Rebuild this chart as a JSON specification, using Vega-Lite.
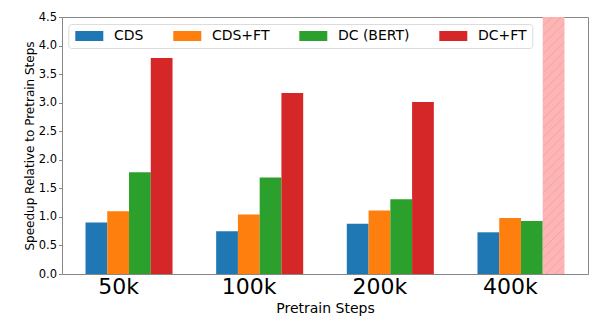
{
  "$schema": "https://vega.github.io/schema/vega-lite/v6.json",
  "width": 526,
  "height": 257,
  "autosize": {"type": "none"},
  "padding": {"left": 62, "top": 17, "right": 10, "bottom": 43},
  "config": {
    "font": "DejaVu Sans",
    "view": {"stroke": "#878787", "strokeWidth": 1},
    "axis": {"grid": false, "domain": false, "labelColor": "#000000", "titleColor": "#000000", "titleFontWeight": "normal", "labelFont": "DejaVu Sans", "titleFont": "DejaVu Sans"}
  },
  "data": {
    "values": [
      {"Step": "50k", "Method": "CDS", "Speedup": 0.90},
      {"Step": "50k", "Method": "CDS+FT", "Speedup": 1.10},
      {"Step": "50k", "Method": "DC (BERT)", "Speedup": 1.78},
      {"Step": "50k", "Method": "DC+FT", "Speedup": 3.78},
      {"Step": "100k", "Method": "CDS", "Speedup": 0.75},
      {"Step": "100k", "Method": "CDS+FT", "Speedup": 1.04},
      {"Step": "100k", "Method": "DC (BERT)", "Speedup": 1.69},
      {"Step": "100k", "Method": "DC+FT", "Speedup": 3.17},
      {"Step": "200k", "Method": "CDS", "Speedup": 0.88},
      {"Step": "200k", "Method": "CDS+FT", "Speedup": 1.11},
      {"Step": "200k", "Method": "DC (BERT)", "Speedup": 1.31},
      {"Step": "200k", "Method": "DC+FT", "Speedup": 3.01},
      {"Step": "400k", "Method": "CDS", "Speedup": 0.73},
      {"Step": "400k", "Method": "CDS+FT", "Speedup": 0.98},
      {"Step": "400k", "Method": "DC (BERT)", "Speedup": 0.93},
      {"Step": "400k", "Method": "DC+FT", "Speedup": 4.5}
    ]
  },
  "encoding": {
    "x": {
      "field": "Step", "type": "nominal",
      "sort": ["50k", "100k", "200k", "400k"],
      "scale": {"paddingInner": 0.334, "paddingOuter": 0.18},
      "axis": {"title": "Pretrain Steps", "labelAngle": 0, "labelFontSize": 22, "ticks": false, "labelPadding": 2, "labelOffset": -10.5, "titleFontSize": 14, "titlePadding": 4}
    },
    "xOffset": {
      "field": "Method", "type": "nominal",
      "scale": {"domain": ["CDS", "CDS+FT", "DC (BERT)", "DC+FT"], "paddingInner": 0, "paddingOuter": 0}
    },
    "y": {
      "field": "Speedup", "type": "quantitative",
      "scale": {"domain": [0, 4.5], "nice": false},
      "axis": {"title": "Speedup Relative to Pretrain Steps", "values": [0, 0.5, 1, 1.5, 2, 2.5, 3, 3.5, 4, 4.5], "format": ".1f", "labelFontSize": 11.5, "tickSize": 3.5, "tickColor": "#878787", "labelPadding": 2, "titleFontSize": 12, "titlePadding": 2}
    }
  },
  "layer": [
    {
      "transform": [{"filter": "!(datum.Step === '400k' && datum.Method === 'DC+FT')"}],
      "mark": {"type": "bar"},
      "encoding": {
        "color": {
          "field": "Method", "type": "nominal",
          "scale": {"domain": ["CDS", "CDS+FT", "DC (BERT)", "DC+FT"], "range": ["#1f77b4", "#ff7f0e", "#2ca02c", "#d62728"]},
          "legend": {
            "orient": "none", "legendX": 6.3, "legendY": 7, "direction": "horizontal", "columns": 4, "title": null,
            "labelFontSize": 14, "labelFont": "DejaVu Sans", "labelColor": "#000000",
            "symbolType": "M-1,-1H4.6V1H-1Z", "symbolSize": 100, "symbolStrokeWidth": 0, "symbolOpacity": 1,
            "labelOffset": 26.6, "columnPadding": 27, "padding": 5,
            "strokeColor": "#dcdcdc", "fillColor": "#ffffff", "cornerRadius": 3
          }
        }
      }
    },
    {
      "transform": [{"filter": "datum.Step === '400k' && datum.Method === 'DC+FT'"}],
      "mark": {
        "type": "bar",
        "fill": {
          "gradient": "linear", "x1": 0, "y1": 0, "x2": 0.0909, "y2": 1.0768,
          "stops": [
            {"offset": 0, "color": "#dcaaad"}, {"offset": 0.0035, "color": "#ffb3b3"},
            {"offset": 0.0298, "color": "#ffb3b3"}, {"offset": 0.0333, "color": "#dcaaad"}, {"offset": 0.0368, "color": "#ffb3b3"},
            {"offset": 0.0632, "color": "#ffb3b3"}, {"offset": 0.0667, "color": "#dcaaad"}, {"offset": 0.0702, "color": "#ffb3b3"},
            {"offset": 0.0965, "color": "#ffb3b3"}, {"offset": 0.1, "color": "#dcaaad"}, {"offset": 0.1035, "color": "#ffb3b3"},
            {"offset": 0.1298, "color": "#ffb3b3"}, {"offset": 0.1333, "color": "#dcaaad"}, {"offset": 0.1368, "color": "#ffb3b3"},
            {"offset": 0.1632, "color": "#ffb3b3"}, {"offset": 0.1667, "color": "#dcaaad"}, {"offset": 0.1702, "color": "#ffb3b3"},
            {"offset": 0.1965, "color": "#ffb3b3"}, {"offset": 0.2, "color": "#dcaaad"}, {"offset": 0.2035, "color": "#ffb3b3"},
            {"offset": 0.2298, "color": "#ffb3b3"}, {"offset": 0.2333, "color": "#dcaaad"}, {"offset": 0.2368, "color": "#ffb3b3"},
            {"offset": 0.2632, "color": "#ffb3b3"}, {"offset": 0.2667, "color": "#dcaaad"}, {"offset": 0.2702, "color": "#ffb3b3"},
            {"offset": 0.2965, "color": "#ffb3b3"}, {"offset": 0.3, "color": "#dcaaad"}, {"offset": 0.3035, "color": "#ffb3b3"},
            {"offset": 0.3298, "color": "#ffb3b3"}, {"offset": 0.3333, "color": "#dcaaad"}, {"offset": 0.3368, "color": "#ffb3b3"},
            {"offset": 0.3632, "color": "#ffb3b3"}, {"offset": 0.3667, "color": "#dcaaad"}, {"offset": 0.3702, "color": "#ffb3b3"},
            {"offset": 0.3965, "color": "#ffb3b3"}, {"offset": 0.4, "color": "#dcaaad"}, {"offset": 0.4035, "color": "#ffb3b3"},
            {"offset": 0.4298, "color": "#ffb3b3"}, {"offset": 0.4333, "color": "#dcaaad"}, {"offset": 0.4368, "color": "#ffb3b3"},
            {"offset": 0.4632, "color": "#ffb3b3"}, {"offset": 0.4667, "color": "#dcaaad"}, {"offset": 0.4702, "color": "#ffb3b3"},
            {"offset": 0.4965, "color": "#ffb3b3"}, {"offset": 0.5, "color": "#dcaaad"}, {"offset": 0.5035, "color": "#ffb3b3"},
            {"offset": 0.5298, "color": "#ffb3b3"}, {"offset": 0.5333, "color": "#dcaaad"}, {"offset": 0.5368, "color": "#ffb3b3"},
            {"offset": 0.5632, "color": "#ffb3b3"}, {"offset": 0.5667, "color": "#dcaaad"}, {"offset": 0.5702, "color": "#ffb3b3"},
            {"offset": 0.5965, "color": "#ffb3b3"}, {"offset": 0.6, "color": "#dcaaad"}, {"offset": 0.6035, "color": "#ffb3b3"},
            {"offset": 0.6298, "color": "#ffb3b3"}, {"offset": 0.6333, "color": "#dcaaad"}, {"offset": 0.6368, "color": "#ffb3b3"},
            {"offset": 0.6632, "color": "#ffb3b3"}, {"offset": 0.6667, "color": "#dcaaad"}, {"offset": 0.6702, "color": "#ffb3b3"},
            {"offset": 0.6965, "color": "#ffb3b3"}, {"offset": 0.7, "color": "#dcaaad"}, {"offset": 0.7035, "color": "#ffb3b3"},
            {"offset": 0.7298, "color": "#ffb3b3"}, {"offset": 0.7333, "color": "#dcaaad"}, {"offset": 0.7368, "color": "#ffb3b3"},
            {"offset": 0.7632, "color": "#ffb3b3"}, {"offset": 0.7667, "color": "#dcaaad"}, {"offset": 0.7702, "color": "#ffb3b3"},
            {"offset": 0.7965, "color": "#ffb3b3"}, {"offset": 0.8, "color": "#dcaaad"}, {"offset": 0.8035, "color": "#ffb3b3"},
            {"offset": 0.8298, "color": "#ffb3b3"}, {"offset": 0.8333, "color": "#dcaaad"}, {"offset": 0.8368, "color": "#ffb3b3"},
            {"offset": 0.8632, "color": "#ffb3b3"}, {"offset": 0.8667, "color": "#dcaaad"}, {"offset": 0.8702, "color": "#ffb3b3"},
            {"offset": 0.8965, "color": "#ffb3b3"}, {"offset": 0.9, "color": "#dcaaad"}, {"offset": 0.9035, "color": "#ffb3b3"},
            {"offset": 0.9298, "color": "#ffb3b3"}, {"offset": 0.9333, "color": "#dcaaad"}, {"offset": 0.9368, "color": "#ffb3b3"},
            {"offset": 0.9632, "color": "#ffb3b3"}, {"offset": 0.9667, "color": "#dcaaad"}, {"offset": 0.9702, "color": "#ffb3b3"},
            {"offset": 0.9965, "color": "#ffb3b3"}, {"offset": 1, "color": "#dcaaad"}
          ]
        }
      }
    }
  ]
}
